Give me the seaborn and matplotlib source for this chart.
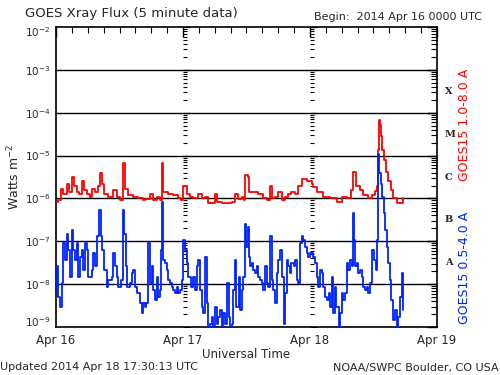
import matplotlib
matplotlib.use("Agg")
import matplotlib.pyplot as plt
import matplotlib.transforms as mtransforms
import seaborn as sns
import numpy as np
import pandas as pd

# ---- data (hours since 2014-04-16 00:00 UTC, flux in W m^-2) ----
long_hours = [0, 0.44, 0.95, 1.38, 2.0, 2.46, 2.96, 3.46, 3.9, 4.35, 4.85, 5.35, 5.8, 6.4,
              6.87, 7.37, 7.87, 8.3, 8.63, 9.13, 9.9, 10.8, 11.47, 12.1, 12.7, 13.04, 13.67,
              14.6, 15.56, 16.5, 16.8, 17.76, 18.4, 19.0, 19.65, 19.97, 20.3, 21.2, 22.2,
              23.1, 23.6, 24.06, 24.7, 25.3, 25.9, 26.9, 27.5, 28.2, 28.8, 29.4, 30.05, 30.5,
              31.3, 32.3, 32.6, 33.2, 33.8, 34.45, 35.1, 35.6, 35.8, 36.2, 36.5, 37.3, 38.2,
              39.2, 39.8, 40.4, 40.9, 41.4, 42.0, 42.65, 43.3, 43.9, 44.5, 45.2, 45.8, 46.5,
              47.4, 48.3, 48.6, 49.3, 50.5, 51.8, 53.05, 54.0, 54.9, 55.7, 56.2, 56.7, 57.45,
              58.1, 59.0, 59.7, 60.3, 60.6, 60.8, 61.0, 61.2, 61.4, 61.7, 62.0, 62.4, 62.8,
              63.25, 63.7, 64.4, 65.0, 65.5]
long_flux = [8.3e-7, 9.1e-7, 1.7e-6, 1.3e-6, 2.2e-6, 1.4e-6, 3.2e-6, 1.9e-6, 1.4e-6, 1.3e-6,
             2.5e-6, 1.6e-6, 1.3e-6, 1.1e-6, 1.7e-6, 1.4e-6, 1.9e-6, 3.9e-6, 2.2e-6, 1.3e-6,
             1.1e-6, 1.6e-6, 1.1e-6, 9.1e-7, 6.6e-6, 1.7e-6, 1.2e-6, 1.1e-6, 1.0e-6, 9.1e-7,
             9.6e-7, 1.3e-6, 9.1e-7, 1.1e-6, 9.1e-7, 6.8e-6, 1.4e-6, 1.3e-6, 1.2e-6, 1.0e-6,
             9.1e-7, 2.0e-6, 1.3e-6, 1.1e-6, 1.0e-6, 1.3e-6, 1.0e-6, 1.1e-6, 8.0e-7, 7.8e-7,
             1.3e-6, 8.4e-7, 7.8e-7, 8.0e-7, 7.8e-7, 8.4e-7, 1.3e-6, 9.6e-7, 1.1e-6, 9.1e-7,
             3.5e-6, 3.2e-6, 1.4e-6, 1.4e-6, 1.3e-6, 1.0e-6, 9.1e-7, 2.0e-6, 1.0e-6, 1.1e-6,
             1.4e-6, 9.1e-7, 1.1e-6, 1.3e-6, 1.4e-6, 1.3e-6, 1.9e-6, 2.9e-6, 2.5e-6, 2.2e-6,
             1.8e-6, 1.4e-6, 1.1e-6, 1.0e-6, 8.4e-7, 1.1e-6, 1.0e-6, 1.6e-6, 4.2e-6, 1.9e-6,
             1.6e-6, 1.2e-6, 1.0e-6, 1.2e-6, 1.5e-6, 2.0e-6, 1.35e-5, 6.8e-5, 5.1e-5, 2.8e-5,
             1.35e-5, 8.0e-6, 4.2e-6, 2.5e-6, 1.6e-6, 1.0e-6, 8.0e-7, 7.8e-7, 1.0e-6]

short_hours = [0, 0.13, 0.44, 0.76, 1.07, 1.39, 1.7, 2.02, 2.33, 2.65, 2.96, 3.28, 3.59, 3.9,
               4.22, 4.54, 4.85, 5.17, 5.48, 5.8, 6.11, 6.74, 7.06, 7.37, 7.69, 8.13, 8.5,
               8.76, 9.13, 9.58, 9.89, 10.52, 10.84, 11.15, 11.47, 11.78, 12.28, 12.73, 12.9,
               13.17, 13.5, 13.99, 14.3, 14.6, 14.93, 15.25, 15.9, 16.2, 16.5, 16.8, 17.1,
               17.45, 17.76, 18.1, 18.4, 18.7, 19.0, 19.3, 19.65, 19.84, 20.03, 20.3, 20.6,
               20.9, 21.2, 21.5, 21.9, 22.2, 22.5, 22.8, 23.1, 23.4, 23.75, 24.06, 24.4, 24.7,
               25.0, 25.3, 25.6, 25.95, 26.3, 26.6, 26.9, 27.2, 27.5, 27.8, 28.2, 28.5, 28.8,
               29.1, 29.4, 29.7, 30.0, 30.4, 30.7, 31.0, 31.3, 31.6, 32.0, 32.25, 32.6, 32.9,
               33.2, 33.5, 33.8, 34.1, 34.5, 34.8, 35.1, 35.4, 35.7, 36.0, 36.2, 36.5, 36.7,
               37.0, 37.3, 37.6, 37.9, 38.2, 38.6, 38.9, 39.2, 39.5, 39.8, 40.1, 40.4, 40.8,
               41.1, 41.4, 41.7, 42.0, 42.3, 42.65, 43.0, 43.3, 43.6, 43.9, 44.2, 44.5, 44.9,
               45.2, 45.5, 45.8, 46.1, 46.4, 46.7, 47.1, 47.4, 47.7, 48.0, 48.3, 48.6, 48.95,
               49.3, 49.6, 49.9, 50.2, 50.5, 50.8, 51.15, 51.5, 51.8, 52.1, 52.4, 52.7, 53.0,
               53.4, 53.7, 54.0, 54.3, 54.6, 54.9, 55.2, 55.6, 55.9, 56.1, 56.3, 56.5, 56.8,
               57.1, 57.45, 57.8, 58.1, 58.4, 58.7, 59.0, 59.3, 59.65, 59.8, 60.1, 60.4, 60.6,
               60.8, 61.0, 61.4, 61.6, 61.9, 62.2, 62.5, 62.8, 63.1, 63.4, 63.75, 64.1, 64.4,
               64.7, 65.0, 65.3, 65.5]
short_flux = [6.1e-9, 2.6e-8, 5.1e-9, 3.0e-9, 1.05e-8, 8.9e-8, 3.6e-8, 1.5e-7, 6.3e-8, 1.5e-8,
              1.8e-7, 6.3e-8, 3.6e-8, 8.9e-8, 1.5e-8, 4.4e-8, 6.3e-8, 2.1e-8, 8.9e-8, 6.3e-8,
              1.5e-8, 2.1e-8, 5.2e-8, 2.6e-8, 1.3e-7, 5.4e-7, 1.3e-7, 6.3e-8, 2.1e-8, 8.7e-9,
              1.25e-8, 1.5e-8, 5.2e-8, 2.6e-8, 1.5e-8, 8.7e-9, 1.25e-8, 5.4e-7, 1.5e-7, 2.6e-8,
              8.7e-9, 1.05e-8, 1.8e-8, 2.1e-8, 8.7e-9, 6.1e-9, 3.6e-9, 2.1e-9, 3.6e-9, 3.0e-9,
              3.6e-9, 8.9e-8, 1.05e-8, 2.6e-8, 7.3e-9, 4.3e-9, 1.5e-8, 5.1e-9, 7.3e-9, 6.3e-8,
              8.4e-7, 3.6e-8, 3.1e-8, 2.1e-8, 1.25e-8, 1.05e-8, 8.7e-9, 7.3e-9, 6.1e-9, 8.7e-9,
              6.1e-9, 7.3e-9, 1.25e-8, 1.07e-7, 6.3e-8, 3.1e-8, 1.5e-8, 1.5e-8, 8.7e-9, 1.5e-8,
              7.3e-9, 2.6e-8, 3.6e-8, 7.3e-9, 3.0e-9, 2.1e-9, 4.4e-8, 3.6e-9, 1.0e-9, 1.2e-9,
              1.7e-9, 1.0e-9, 3.0e-9, 1.2e-9, 1.7e-9, 2.5e-9, 1.0e-9, 2.1e-9, 1.2e-9, 1.05e-8,
              1.7e-9, 1.0e-9, 1.2e-9, 7.3e-9, 3.6e-8, 3.0e-9, 1.5e-8, 2.5e-9, 7.3e-9, 1.5e-8,
              2.6e-7, 7.5e-8, 2.2e-7, 4.4e-8, 2.6e-8, 3.1e-8, 2.1e-8, 1.8e-8, 2.6e-8, 1.5e-8,
              1.25e-8, 1.05e-8, 7.3e-9, 2.6e-8, 1.05e-8, 8.7e-9, 1.3e-7, 1.25e-8, 7.3e-9, 3.6e-9,
              1.8e-8, 3.6e-8, 6.3e-8, 1.5e-8, 1.2e-9, 6.1e-9, 3.6e-8, 2.6e-8, 1.8e-8, 3.1e-8,
              2.6e-8, 3.6e-8, 1.25e-8, 1.05e-8, 8.9e-8, 1.3e-7, 1.07e-7, 7.5e-8, 5.2e-8, 4.4e-8,
              5.2e-8, 5.2e-8, 4.4e-8, 3.1e-8, 1.5e-8, 8.7e-9, 2.1e-8, 1.8e-8, 8.7e-9, 5.1e-9,
              4.3e-9, 6.1e-9, 3.0e-9, 1.5e-8, 2.1e-9, 8.7e-9, 3.0e-9, 1.0e-9, 2.1e-9, 6.1e-9,
              4.3e-9, 6.1e-9, 3.1e-8, 2.1e-8, 3.6e-8, 2.6e-8, 4.5e-7, 1.07e-7, 2.6e-8, 3.1e-8,
              1.8e-8, 2.1e-8, 1.5e-8, 8.7e-9, 7.3e-9, 8.7e-9, 6.1e-9, 1.05e-8, 3.1e-8, 6.3e-8,
              3.6e-8, 2.1e-8, 1.07e-7, 1.1e-5, 3.9e-6, 2.2e-6, 1.1e-6, 4.5e-7, 1.8e-7, 7.5e-8,
              3.1e-8, 1.25e-8, 4.3e-9, 1.45e-9, 2.5e-9, 1.0e-9, 1.7e-9, 5.1e-9, 1.8e-8, 2.5e-9]

day_ticks = [0, 24, 48, 72]
day_labels = ["Apr 16", "Apr 17", "Apr 18", "Apr 19"]
decades = [1e-9, 1e-8, 1e-7, 1e-6, 1e-5, 1e-4, 1e-3, 1e-2]
decade_labels = [r"$10^{-9}$", r"$10^{-8}$", r"$10^{-7}$", r"$10^{-6}$",
                 r"$10^{-5}$", r"$10^{-4}$", r"$10^{-3}$", r"$10^{-2}$"]
class_names = ["A", "B", "C", "M", "X"]
class_levels = [10**-7.5, 10**-6.5, 10**-5.5, 10**-4.5, 10**-3.5]

sns.set_style("white")
plt.rcParams["font.family"] = ["DejaVu Sans"]

df_long = pd.DataFrame({"hours": long_hours, "flux": long_flux})
df_short = pd.DataFrame({"hours": short_hours, "flux": short_flux})

fig = plt.figure(figsize=(5, 3.75), dpi=100)
ax = fig.add_axes([0.112, 0.128, 0.762, 0.800])
ax.set_yscale("log")
ax.set_xlim(0, 72)
ax.set_ylim(1e-9, 1e-2)

# horizontal lines at inner decades
for d in decades[1:-1]:
    ax.axhline(d, color="black", lw=1.0, zorder=1)

# log ticks along the day boundaries
minor_vals = [m * d for d in decades[:-1] for m in range(2, 10)]
for day in day_ticks[1:3]:
    ax.plot([day] * len(minor_vals), minor_vals, ls="none", marker=1,
            markersize=3, color="black", mew=0.8, zorder=2)
    ax.plot([day] * len(decades), decades, ls="none", marker=1,
            markersize=5, color="black", mew=0.9, zorder=2)

sns.lineplot(data=df_long, x="hours", y="flux", ax=ax, color="#ff0000",
             drawstyle="steps-post", lw=1.3, estimator=None, zorder=3)
sns.lineplot(data=df_short, x="hours", y="flux", ax=ax, color="#0022ff",
             drawstyle="steps-post", lw=1.3, estimator=None, zorder=3)

ax.set_yticks(decades)
ax.set_yticklabels(decade_labels, fontsize=7.5)
ax.yaxis.set_minor_locator(matplotlib.ticker.LogLocator(base=10, subs=np.arange(2, 10)))
ax.yaxis.set_minor_formatter(matplotlib.ticker.NullFormatter())
ax.set_xticks(day_ticks)
ax.set_xticklabels(day_labels, fontsize=8.5)
ax.set_xticks(np.arange(0, 73, 3), minor=True)
ax.tick_params(axis="both", which="major", direction="in", length=7, width=1,
               top=True, right=True, color="black", pad=4)
ax.tick_params(axis="x", which="major", pad=5)
ax.tick_params(axis="both", which="minor", direction="in", length=4, width=0.8,
               top=True, right=True, color="black")
for s in ax.spines.values():
    s.set_color("black")
    s.set_linewidth(1.2)

# nudge the end tick labels inward like the reference
ylabels = ax.get_yticklabels()
ylabels[0].set_transform(ylabels[0].get_transform() +
                         mtransforms.ScaledTranslation(0, 4 / 72, fig.dpi_scale_trans))
ylabels[-1].set_transform(ylabels[-1].get_transform() +
                          mtransforms.ScaledTranslation(0, -3 / 72, fig.dpi_scale_trans))

ax.set_xlabel("Universal Time", fontsize=8.5, labelpad=1)
ax.set_ylabel(r"Watts m$^{-2}$", fontsize=9, labelpad=2)

# flare class letters on the right
for name, lvl in zip(class_names, class_levels):
    ax.text(1.02, lvl, name, transform=ax.get_yaxis_transform(), fontsize=7,
            fontweight="bold", family="DejaVu Serif", va="center", ha="left")

fig.text(0.93, 0.667, "GOES15 1.0-8.0 A", rotation=90, color="#ff0000",
         fontsize=9, ha="center", va="center")
fig.text(0.93, 0.285, "GOES15 0.5-4.0 A", rotation=90, color="#0022ff",
         fontsize=9, ha="center", va="center")

fig.text(0.05, 0.965, "GOES Xray Flux (5 minute data)", fontsize=9.5,
         ha="left", va="center")
fig.text(0.965, 0.955, "Begin:  2014 Apr 16 0000 UTC", fontsize=8,
         ha="right", va="center")
fig.text(0.0, 0.02, "Updated 2014 Apr 18 17:30:13 UTC", fontsize=8,
         ha="left", va="center")
fig.text(0.998, 0.02, "NOAA/SWPC Boulder, CO USA", fontsize=8,
         ha="right", va="center")

fig.savefig("out.png", dpi=100, facecolor="white")
